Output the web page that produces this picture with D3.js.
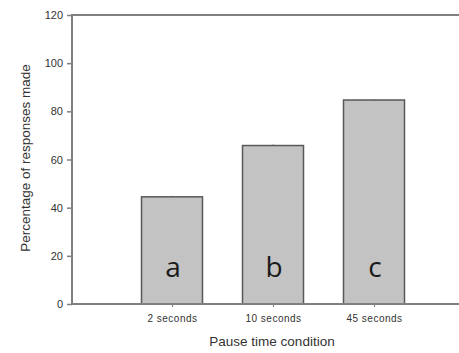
<!DOCTYPE html>
<html>
<head>
<meta charset="utf-8">
<script src="https://cdn.jsdelivr.net/npm/d3@7"></script>
<style>
  body { margin: 0; background: #fff; }
  svg { display: block; }
</style>
</head>
<body>
<div id="vis"></div>
<script>
//-- Setup
var width = 459;
var height = 353;

var categories = ["2 seconds", "10 seconds", "45 seconds"];
var values = [44.5, 65.8, 84.7];
var errors = [0.4, 0.4, 0.4];
var groupLetters = ["a", "b", "c"];
var yTicks = [0, 20, 40, 60, 80, 100, 120];

// plot edges (note: "top" is reserved on window)
var plotLeft = 72, plotTop = 15, plotBottom = 304, plotRight = 459;

var svg = d3.select("#vis").append("svg")
  .attr("width", width)
  .attr("height", height);

var x = d3.scalePoint()
  .domain(categories)
  .range([172, 374]);

var y = d3.scaleLinear()
  .domain([0, 120])
  .range([plotBottom, plotTop]);

var barW = 61;
var axisColor = "#808080";

// bars
svg.selectAll("rect.bar")
  .data(values)
  .enter()
  .append("rect")
  .attr("class", "bar")
  .attr("x", function(d, i) { return x(categories[i]) - barW / 2; })
  .attr("y", function(d) { return y(d); })
  .attr("width", barW)
  .attr("height", function(d) { return y(0) - y(d); })
  .style("fill", "#c3c3c3")
  .style("stroke", "#585858")
  .style("stroke-width", 1.5);

// tiny error bars
svg.selectAll("line.err")
  .data(values)
  .enter()
  .append("line")
  .attr("x1", function(d, i) { return x(categories[i]); })
  .attr("x2", function(d, i) { return x(categories[i]); })
  .attr("y1", function(d) { return y(d); })
  .attr("y2", function(d, i) { return y(d + errors[i]); })
  .style("stroke", "#585858")
  .style("stroke-width", 1);

// letters in bars
svg.selectAll("text.letter")
  .data(groupLetters)
  .enter()
  .append("text")
  .attr("x", function(d, i) { return x(categories[i]) + 1; })
  .attr("y", 277)
  .attr("text-anchor", "middle")
  .style("font-family", "'Open Sans', sans-serif")
  .style("font-size", "28px")
  .style("fill", "#1a1a1a")
  .text(function(d) { return d; });

// y axis
var yAxis = d3.axisLeft(y).tickValues(yTicks).tickSize(5).tickPadding(4);
var gy = svg.append("g")
  .attr("transform", "translate(" + plotLeft + ",0)")
  .call(yAxis);
gy.select(".domain").remove();
gy.selectAll("line").style("stroke", axisColor).style("stroke-width", 1.5);
gy.selectAll("text")
  .style("font-family", "Arial, 'Liberation Sans', sans-serif")
  .style("font-size", "11px")
  .style("fill", "#333");

// x axis
var xAxis = d3.axisBottom(x).tickSize(3).tickPadding(8);
var gx = svg.append("g")
  .attr("transform", "translate(0," + plotBottom + ")")
  .call(xAxis);
gx.select(".domain").remove();
gx.selectAll("line").style("stroke", axisColor).style("stroke-width", 1.2);
gx.selectAll("text")
  .style("font-family", "Arial, 'Liberation Sans', sans-serif")
  .style("font-size", "10px")
  .style("letter-spacing", "0.5px")
  .style("fill", "#333");

// frame lines
svg.append("line")
  .attr("x1", plotLeft).attr("x2", plotLeft)
  .attr("y1", plotTop - 1).attr("y2", plotBottom + 1)
  .style("stroke", axisColor).style("stroke-width", 2);
svg.append("line")
  .attr("x1", plotLeft - 1).attr("x2", plotRight)
  .attr("y1", plotBottom).attr("y2", plotBottom)
  .style("stroke", axisColor).style("stroke-width", 2);
svg.append("line")
  .attr("x1", plotLeft - 1).attr("x2", plotRight)
  .attr("y1", plotTop).attr("y2", plotTop)
  .style("stroke", axisColor).style("stroke-width", 2);

// axis titles
svg.append("text")
  .attr("x", 272)
  .attr("y", 346)
  .attr("text-anchor", "middle")
  .style("font-family", "Arial, 'Liberation Sans', sans-serif")
  .style("font-size", "13.5px")
  .style("fill", "#333")
  .text("Pause time condition");

svg.append("text")
  .attr("transform", "translate(30,158) rotate(-90)")
  .attr("text-anchor", "middle")
  .style("font-family", "Arial, 'Liberation Sans', sans-serif")
  .style("font-size", "13.5px")
  .style("fill", "#333")
  .text("Percentage of responses made");
</script>
</body>
</html>
